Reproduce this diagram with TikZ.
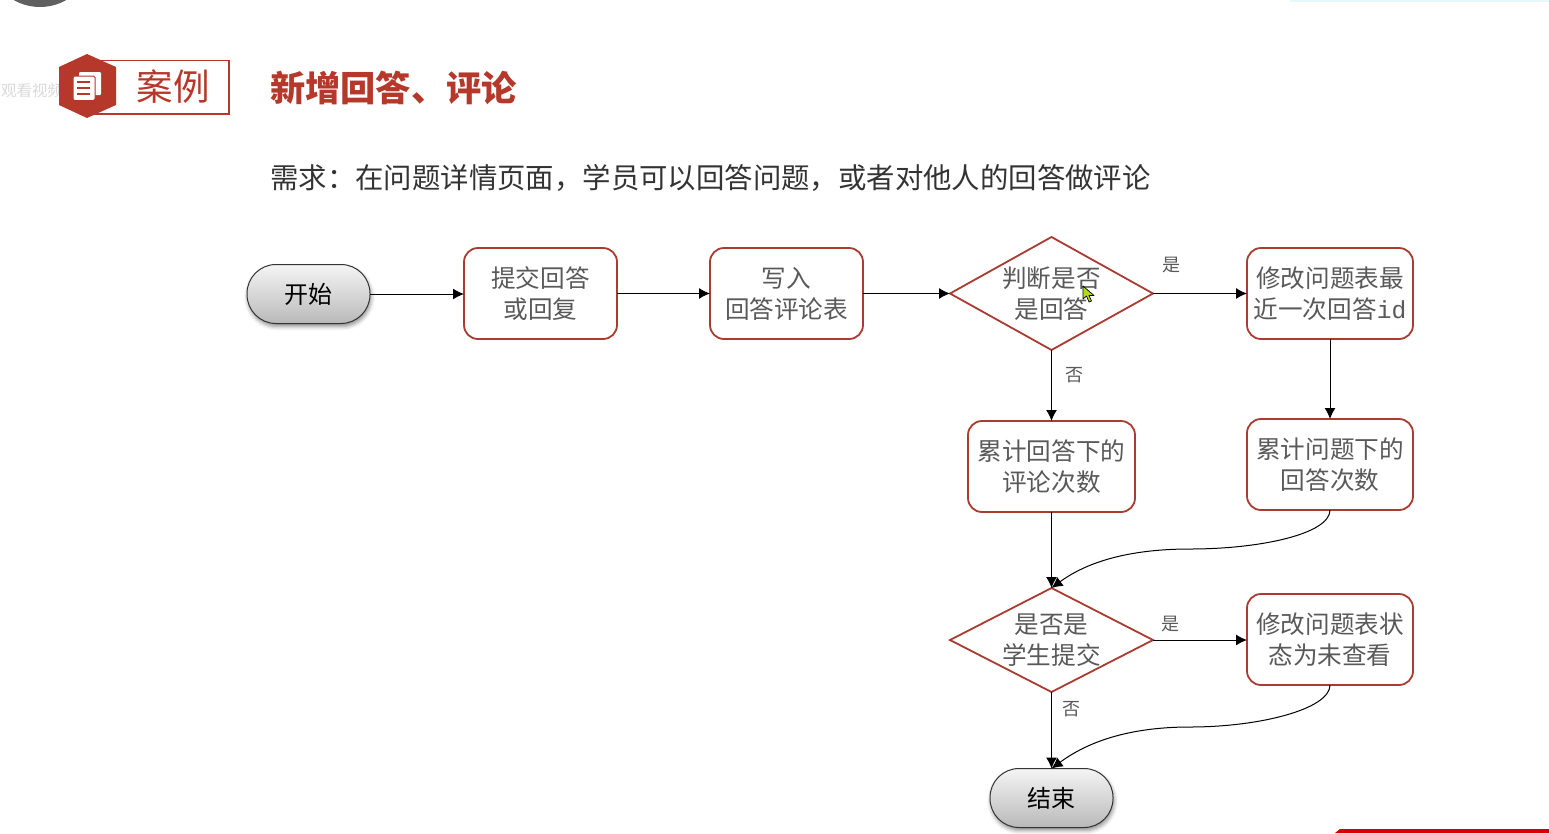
\documentclass[tikz,border=0pt]{standalone}
\usepackage{fontspec}
\setmainfont{Noto Sans CJK SC}
\newfontfamily\idfont{Liberation Mono}
\usetikzlibrary{arrows.meta,shapes.geometric,shadows.blur}
\definecolor{caseRed}{HTML}{B5382A}
\definecolor{boxRed}{HTML}{A93B30}
\definecolor{boxText}{HTML}{595959}
\newcommand{\wcomma}{\char"FF0C\relax}
\newcommand{\wcolon}{\char"FF1A\relax}
\tikzset{
  procbox/.style={draw=boxRed,line width=1.8pt,rounded corners=14pt,fill=white,inner sep=0pt,outer sep=0pt,
    minimum width=153pt,minimum height=91pt,align=center,text=boxText,font=\fontsize{24.6}{31}\selectfont},
  widebox/.style={procbox,minimum width=166pt},
  decide/.style={diamond,draw=boxRed,line width=1.8pt,fill=white,inner sep=0pt,outer sep=0pt,aspect=1.85,
    minimum width=203pt,minimum height=113pt,align=center,text=boxText,font=\fontsize{24.6}{31}\selectfont},
  terminal/.style={draw=black!80,line width=1pt,rounded corners=29pt,top color=gray!8,bottom color=gray!55,
    minimum width=123pt,minimum height=59pt,inner sep=0pt,outer sep=0pt,font=\fontsize{24}{30}\selectfont,
    blur shadow={shadow opacity=45,shadow xshift=1pt,shadow yshift=-3pt,shadow blur radius=4pt}},
  branch/.style={text=boxText,inner sep=0pt,font=\fontsize{18}{18}\selectfont},
  flow/.style={-{Latex[length=11pt,width=11pt]},line width=1pt,black}
}
\begin{document}
\begin{tikzpicture}[x=1pt,y=-1pt]
\useasboundingbox (0,0) rectangle (1549,833);

\begin{scope}
\clip (0,0) rectangle (1549,833);
\fill [gray!75!black] (40,-46) circle (53);
\fill [cyan!10] (1290,0) rectangle (1549,1.5);
\fill [red!85!black] (1340,829) -- (1549,829) -- (1549,833) -- (1335,833) -- cycle;
\node [text=gray!30,inner sep=0pt,anchor=west,font=\fontsize{15.5}{15}\selectfont] (watch) at (1,91) {观看视频};
\end{scope}

\draw [draw=caseRed,line width=1.6pt] (95,60.5) rectangle (229,114);
\fill [caseRed] (87,54) -- (116,67) -- (116,105) -- (87,118) -- (59,105) -- (59,67) -- cycle;
\fill [white,rounded corners=1pt] (79,72) rectangle (101,95);
\draw [caseRed,fill=white,line width=1pt,rounded corners=1.5pt] (73,76) rectangle (95,100.5);
\draw [caseRed,line width=1.6pt] (77,82) -- (90,82);
\draw [caseRed,line width=1.6pt] (77,88) -- (90,88);
\draw [caseRed,line width=1.6pt] (77,94) -- (90,94);
\node [text=caseRed,inner sep=0pt,font=\fontsize{36.5}{36}\selectfont] (case) at (173,87) {案例};
\node [text=caseRed,inner sep=0pt,anchor=west,font=\fontsize{35.2}{35}\selectfont\bfseries] (title) at (270,88) {新增回答、评论};
\node [text=black!80,inner sep=0pt,anchor=west,font=\fontsize{28.4}{30}\selectfont] (need) at (270,178) {需求\wcolon 在问题详情页面\wcomma 学员可以回答问题\wcomma 或者对他人的回答做评论};

\node [terminal] (start) at (308.5,294) {开始};
\node [procbox] (submit) at (540.5,293.5) {提交回答\\或回复};
\node [procbox] (write) at (786.5,293.5) {写入\\回答评论表};
\node [decide] (isanswer) at (1051.5,293.5) {判断是否\\是回答};
\node [widebox] (latest) at (1330,293.5) {修改问题表最\\近一次回答{\idfont id}};
\node [procbox,minimum width=167pt] (comments) at (1051.5,466.5) {累计回答下的\\评论次数};
\node [widebox] (answers) at (1330,464.5) {累计问题下的\\回答次数};
\node [decide,aspect=1.95,minimum height=104pt] (isstudent) at (1051.5,640) {是否是\\学生提交};
\node [widebox] (unread) at (1330,639.5) {修改问题表状\\态为未查看};
\node [terminal] (finish) at (1051.5,798) {结束};

\draw [flow] (start.east) -- (submit.west |- start.east);
\draw [flow] (submit) -- (write);
\draw [flow] (write) -- (isanswer);
\draw [flow] (isanswer) -- (latest);
\draw [flow] (latest) -- (answers);
\draw [flow] (isanswer) -- (comments);
\draw [flow] (comments) -- (isstudent);
\draw [flow] (isstudent.east) -- (unread.west |- isstudent.east);
\draw [flow] (isstudent) -- (finish);

\coordinate (midone) at (1190,549);
\coordinate (midtwo) at (1190,727);
\draw [flow] (answers.south) .. controls +(0,24) and +(70,0) .. (midone) .. controls +(-70,0) and +(30,-22) .. (isstudent.north);
\draw [flow] (unread.south) .. controls +(0,24) and +(70,0) .. (midtwo) .. controls +(-70,0) and +(30,-22) .. (finish.north);

\node [branch] (yesone) at (1171,265.5) {是};
\node [branch] (noone) at (1074,375) {否};
\node [branch] (yestwo) at (1170,624.5) {是};
\node [branch] (notwo) at (1071,709) {否};

\draw [black,line width=0.7pt,fill=yellow!70!green,line join=round] (1083,286) -- (1083,299) -- (1086.5,296) -- (1089,302) -- (1091.5,301) -- (1089,295.5) -- (1094,295.5) -- cycle;
\end{tikzpicture}
\end{document}
